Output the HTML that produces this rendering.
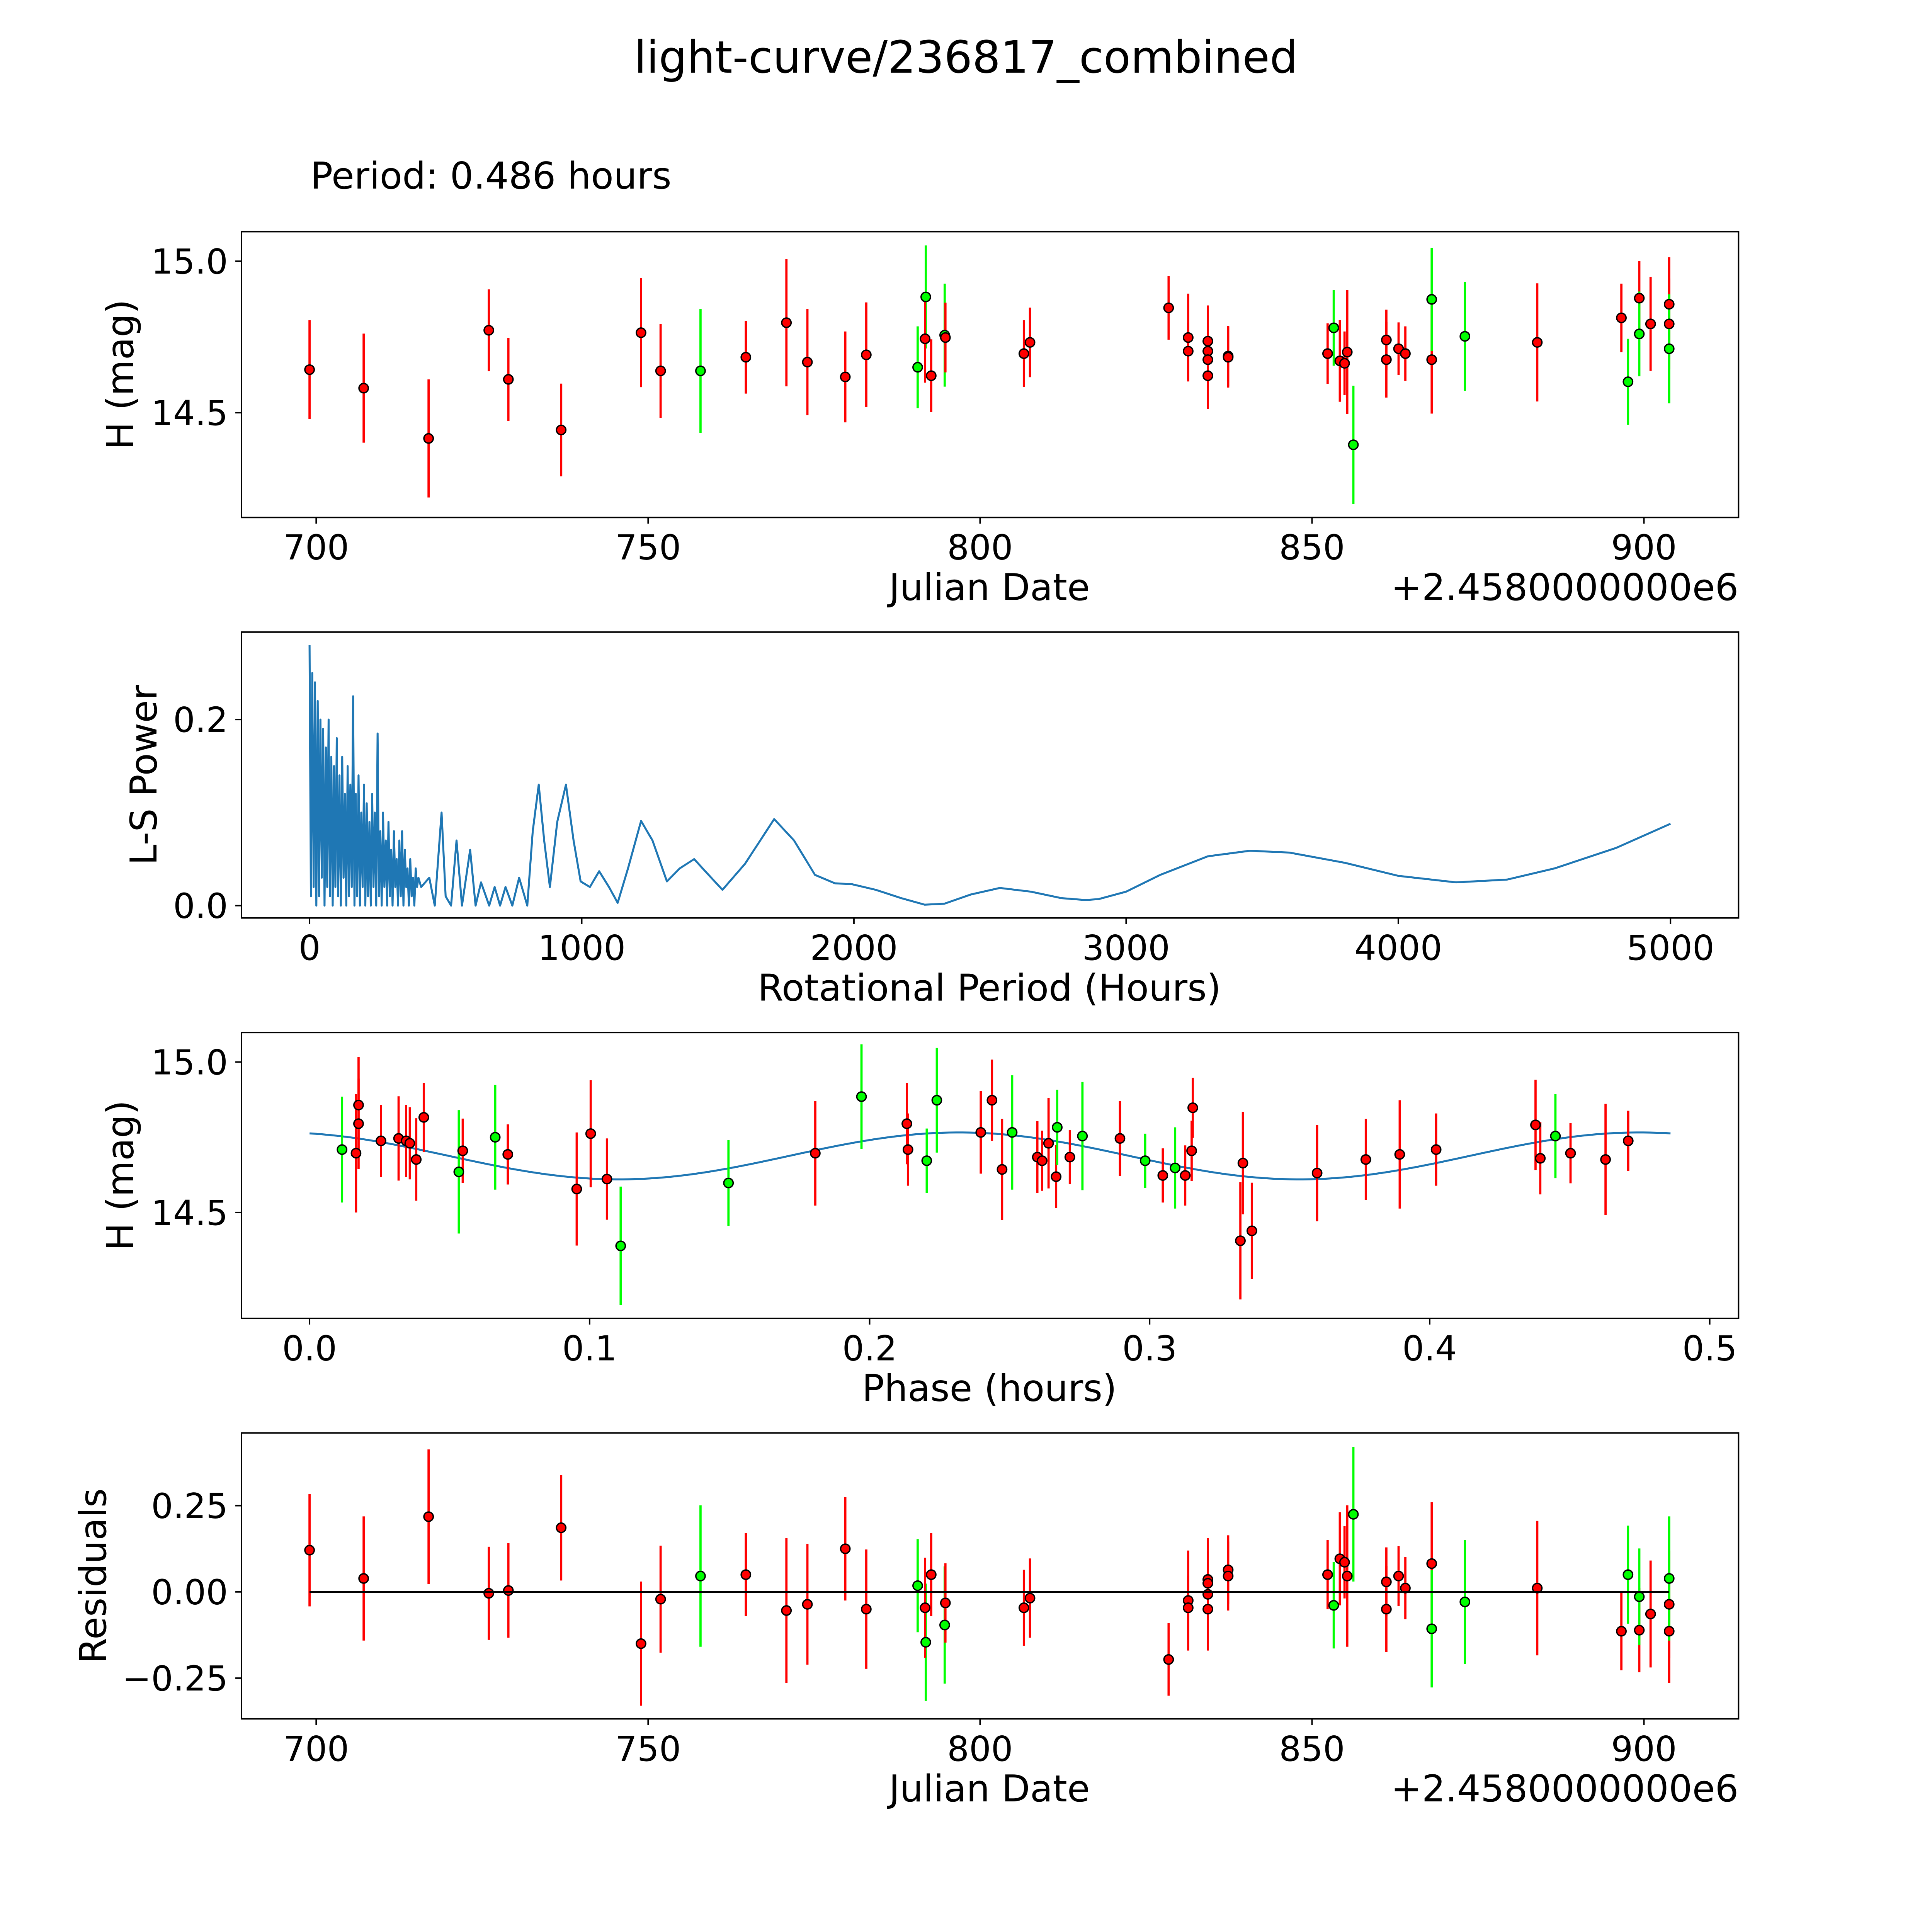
<!DOCTYPE html>
<html><head><meta charset="utf-8"><style>
html,body{margin:0;padding:0;background:#fff;width:100%;height:100%;overflow:hidden;}
svg{display:block;position:absolute;left:0;top:0;width:100vw;height:100vh;font-family:"DejaVu Sans","Liberation Sans",sans-serif;}
</style></head><body>
<svg id="fig" viewBox="0 0 1568 1568" preserveAspectRatio="none" xmlns="http://www.w3.org/2000/svg">
<rect x="0" y="0" width="1568" height="1568" fill="#fff"/>
<text x="784" y="59" font-size="36" text-anchor="middle">light-curve/236817_combined</text>
<text x="252" y="153" font-size="30">Period: 0.486 hours</text>
</svg>
<script>
// ---- light curve data ----
const dates=[699,707.15,716.93,726.0,728.95,736.9,748.93,751.88,757.89,764.72,770.83,773.99,779.7,782.86,790.6,791.82,791.72,792.64,794.67,794.78,806.6,807.52,828.4,831.35,831.35,834.31,834.31,834.31,834.31,837.37,837.37,852.35,853.27,854.19,854.9,855.31,856.23,861.2,861.2,863.04,864.06,868.03,868.03,873.03,883.93,896.6,897.6,899.3,899.3,901.0,903.8,903.8,903.8];
const mags=[14.642,14.581,14.415,14.772,14.61,14.443,14.764,14.638,14.638,14.683,14.797,14.667,14.618,14.691,14.65,14.882,14.744,14.622,14.756,14.748,14.695,14.732,14.846,14.748,14.703,14.736,14.703,14.675,14.622,14.687,14.683,14.695,14.78,14.671,14.663,14.7,14.394,14.74,14.675,14.711,14.695,14.675,14.874,14.752,14.732,14.813,14.602,14.878,14.76,14.793,14.858,14.793,14.711];
const errs=[0.163,0.18,0.195,0.135,0.137,0.153,0.18,0.155,0.205,0.12,0.21,0.175,0.15,0.173,0.135,0.17,0.145,0.12,0.17,0.115,0.11,0.115,0.105,0.145,0.093,0.118,0.09,0.163,0.1,0.1,0.1,0.1,0.125,0.135,0.105,0.205,0.195,0.1,0.125,0.087,0.09,0.178,0.17,0.18,0.195,0.113,0.142,0.122,0.14,0.155,0.155,0.15,0.18];
const bands=["r","r","r","r","r","r","r","r","g","r","r","r","r","r","g","g","r","r","g","r","r","r","r","r","r","r","r","r","r","r","r","r","g","r","r","r","g","r","r","r","r","r","g","g","r","r","g","r","g","r","r","r","g"];
const resids=[0.121,0.039,0.218,-0.004,0.004,0.186,-0.15,-0.021,0.046,0.05,-0.054,-0.036,0.125,-0.05,0.018,-0.146,-0.046,0.05,-0.096,-0.032,-0.046,-0.018,-0.196,-0.025,-0.046,0.036,0.025,-0.007,-0.05,0.064,0.046,0.05,-0.039,0.096,0.086,0.046,0.225,0.029,-0.05,0.046,0.011,0.082,-0.107,-0.029,0.011,-0.114,0.05,-0.111,-0.014,-0.064,-0.036,-0.114,0.039];
// ---- phased data ----
const phases=[0.0116,0.0166,0.0175,0.0175,0.0255,0.0318,0.0345,0.0358,0.0381,0.0408,0.0533,0.0547,0.0663,0.0708,0.0954,0.1004,0.1062,0.1111,0.1496,0.1806,0.1971,0.2133,0.2137,0.2204,0.224,0.2397,0.2437,0.2473,0.2509,0.2599,0.2616,0.2639,0.2666,0.267,0.2715,0.276,0.2894,0.2984,0.3047,0.3091,0.3127,0.315,0.3154,0.3324,0.3333,0.3365,0.3598,0.3772,0.3893,0.4023,0.4378,0.4395,0.4449,0.4503,0.4628,0.4709];
const phaseMags=[14.709,14.697,14.857,14.795,14.738,14.746,14.738,14.73,14.676,14.816,14.635,14.705,14.75,14.693,14.578,14.762,14.611,14.389,14.598,14.697,14.885,14.795,14.709,14.672,14.873,14.766,14.873,14.643,14.766,14.684,14.672,14.73,14.619,14.783,14.684,14.754,14.746,14.672,14.623,14.648,14.623,14.705,14.848,14.406,14.664,14.439,14.631,14.676,14.693,14.709,14.791,14.68,14.754,14.697,14.676,14.738];
const phaseErrs=[0.176,0.197,0.16,0.15,0.12,0.14,0.12,0.12,0.137,0.115,0.205,0.107,0.174,0.1,0.188,0.178,0.135,0.197,0.143,0.174,0.174,0.135,0.12,0.107,0.174,0.137,0.135,0.168,0.19,0.12,0.1,0.15,0.105,0.125,0.09,0.18,0.125,0.09,0.09,0.135,0.1,0.1,0.1,0.195,0.17,0.16,0.16,0.135,0.18,0.12,0.15,0.12,0.14,0.1,0.185,0.1];
const phaseBands=["g","r","r","r","r","r","r","r","r","r","g","r","g","r","r","r","r","g","g","r","g","r","r","g","g","r","r","r","g","r","r","r","r","g","r","g","r","g","r","g","r","r","r","r","r","r","r","r","r","r","r","r","g","r","r","r"];
const modelParams=[14.688,0.078,0.232,0.243]; // mean, amplitude, phase of max, period
const modelPeriod=0.486;
// ---- periodogram ----
const lsPeriod=[0,5,10,15,20,25,30,35,40,45,50,55,60,65,70,75,80,85,90,95,100,105,110,115,120,125,130,135,140,145,150,155,160,165,170,175,180,185,190,195,200,205,210,215,220,225,230,235,240,245,250,255,260,265,270,275,280,285,290,295,300,305,310,315,320,325,330,335,340,345,350,355,360,365,370,375,380,385,390,395,400,
410,440,460,485,500,520,540,560,590,610,630,660,680,700,720,745,770,800,820,842,862,883,910,942,970,996,1030,1064,1100,1132,1170,1218,1260,1313,1360,1413,1460,1517,1600,1707,1780,1857,1930,1993,2080,2174,2260,2332,2430,2536,2650,2763,2850,2899,3000,3125,3300,3455,3600,3804,4000,4212,4400,4574,4800,5000];
const lsPower=[0.28,0.01,0.25,0.02,0.24,0.0,0.22,0.01,0.2,0.03,0.19,0.0,0.17,0.02,0.2,0.01,0.16,0.0,0.15,0.02,0.18,0.01,0.14,0.0,0.16,0.03,0.12,0.0,0.15,0.01,0.13,0.02,0.225,0.0,0.12,0.01,0.14,0.0,0.1,0.02,0.13,0.0,0.11,0.01,0.09,0.0,0.12,0.02,0.1,0.0,0.185,0.01,0.08,0.0,0.1,0.02,0.07,0.0,0.09,0.01,0.06,0.0,0.08,0.02,0.05,0.0,0.07,0.01,0.08,0.0,0.06,0.02,0.04,0.0,0.05,0.01,0.03,0.0,0.04,0.02,0.03,
0.02,0.03,0.0,0.10,0.01,0.0,0.07,0.0,0.06,0.0,0.025,0.0,0.02,0.0,0.02,0.0,0.03,0.0,0.08,0.13,0.07,0.02,0.09,0.13,0.07,0.026,0.02,0.037,0.02,0.003,0.04,0.091,0.07,0.026,0.04,0.05,0.035,0.017,0.045,0.093,0.07,0.033,0.024,0.023,0.017,0.008,0.001,0.002,0.012,0.019,0.015,0.008,0.006,0.007,0.015,0.033,0.053,0.059,0.057,0.046,0.032,0.025,0.028,0.04,0.062,0.088];
// ---- ticks ----
const jdTicks=[700,750,800,850,900];
const magTicks=[14.5,15.0];
const lsXTicks=[0,1000,2000,3000,4000,5000];
const lsYTicks=[0.0,0.2];
const phaseTicks=[0.0,0.1,0.2,0.3,0.4,0.5];
const residTicks=[-0.25,0,0.25];

const NS="http://www.w3.org/2000/svg";
const svg=document.getElementById('fig');
function el(tag,attrs,parent){const e=document.createElementNS(NS,tag);for(const k in attrs)e.setAttribute(k,attrs[k]);(parent||svg).appendChild(e);return e;}
const L=196,R=1411,H=232;
function scale(d0,d1,p0,p1){return v=>p0+(v-d0)/(d1-d0)*(p1-p0);}
function panel(name,top,xd,yd){
  const g=el('g',{});
  
  
  return {g,top,x:scale(xd[0],xd[1],L,R),y:scale(yd[0],yd[1],top+H,top)};
}
function frame(P){
  const r=el('rect',{x:L,y:P.top,width:R-L,height:H,fill:'none',stroke:'#000','stroke-width':1.2},P.g);
  
  
}
function fmt(v,d){let s=v.toFixed(d);return s.replace('-','\u2212');}
function xticks(P,ticks,d){
  ticks.forEach(t=>{const X=P.x(t);
    el('line',{x1:X,x2:X,y1:P.top+H,y2:P.top+H+5,stroke:'#000','stroke-width':1.2},P.g);
    const tx=el('text',{x:X,y:P.top+H+34,'font-size':28,'text-anchor':'middle'},P.g);
    tx.textContent=fmt(t,d);
    
    
  });
}
function yticks(P,ticks,d){
  ticks.forEach(t=>{const Y=P.y(t);
    el('line',{x1:L-5,x2:L,y1:Y,y2:Y,stroke:'#000','stroke-width':1.2},P.g);
    const tx=el('text',{x:L-11,y:Y+10,'font-size':28,'text-anchor':'end'},P.g);
    tx.textContent=fmt(t,d);
    
    
  });
}
function xlabel(P,txt,name){
  const t=el('text',{x:803,y:P.top+H+67,'font-size':30,'text-anchor':'middle'},P.g);t.textContent=txt;
  
  
}
function ylabel(P,txt,xpos,name){
  const cy=P.top+H/2;
  const t=el('text',{x:xpos,y:cy,'font-size':30,'text-anchor':'middle',transform:`rotate(-90 ${xpos} ${cy})`},P.g);t.textContent=txt;
  
  
}
function offset(P){
  const t=el('text',{x:R,y:P.top+H+67,'font-size':30,'text-anchor':'end'},P.g);t.textContent='+2.4580000000e6';
  
  
}
const COL={r:'#ff0000',g:'#00ff00'};
function points(P,xs,ys,es,cs){
  xs.forEach((xv,i)=>{const X=P.x(xv);
    const l=el('line',{x1:X,x2:X,y1:P.y(ys[i]-es[i]),y2:P.y(ys[i]+es[i]),stroke:COL[cs[i]],'stroke-width':1.8},P.g);
    
    
  });
  xs.forEach((xv,i)=>{
    const c=el('circle',{cx:P.x(xv),cy:P.y(ys[i]),r:3.8,fill:COL[cs[i]],stroke:'#000','stroke-width':1.1},P.g);
    
    
  });
}

const JD_DOMAIN=[688.75,914.25];

// Panel 1
const P1=panel('light-curve-panel',188,JD_DOMAIN,[14.154,15.0976]);
points(P1,dates,mags,errs,bands);frame(P1);
xticks(P1,jdTicks,0);yticks(P1,magTicks,1);xlabel(P1,'Julian Date','x-axis-title');ylabel(P1,'H (mag)',108,'y-axis-title');offset(P1);

// Panel 2
const P2=panel('periodogram-panel',513,[-250,5250],[-0.01325,0.294]);
let d='';lsPeriod.forEach((p,i)=>{d+=(i?'L':'M')+P2.x(p).toFixed(2)+' '+P2.y(lsPower[i]).toFixed(2);});
const ls=el('path',{d:d,fill:'none',stroke:'#1f77b4','stroke-width':1.6,'stroke-linejoin':'round'},P2.g);


frame(P2);xticks(P2,lsXTicks,0);yticks(P2,lsYTicks,1);xlabel(P2,'Rotational Period (Hours)','x-axis-title');ylabel(P2,'L-S Power',127,'y-axis-title');

// Panel 3
const P3=panel('phased-curve-panel',838,[-0.0243,0.5103],[14.148,15.098]);
let dm='';
for(let i=0;i<=200;i++){const p=modelPeriod*i/200;const m=modelParams[0]+modelParams[1]*Math.cos(2*Math.PI*(p-modelParams[2])/modelParams[3]);dm+=(i?'L':'M')+P3.x(p).toFixed(2)+' '+P3.y(m).toFixed(2);}
const mc=el('path',{d:dm,fill:'none',stroke:'#1f77b4','stroke-width':1.6},P3.g);


points(P3,phases,phaseMags,phaseErrs,phaseBands);frame(P3);
xticks(P3,phaseTicks,1);yticks(P3,magTicks,1);xlabel(P3,'Phase (hours)','x-axis-title');ylabel(P3,'H (mag)',108,'y-axis-title');

// Panel 4
const P4=panel('residuals-panel',1163,JD_DOMAIN,[-0.368,0.4607]);
points(P4,dates,resids,errs,bands);
const zl=el('line',{x1:P4.x(Math.min(...dates)),x2:P4.x(Math.max(...dates)),y1:P4.y(0),y2:P4.y(0),stroke:'#000','stroke-width':1.6},P4.g);


frame(P4);xticks(P4,jdTicks,0);yticks(P4,residTicks,2);xlabel(P4,'Julian Date','x-axis-title');ylabel(P4,'Residuals',86,'y-axis-title');offset(P4);
</script>
</body></html>
